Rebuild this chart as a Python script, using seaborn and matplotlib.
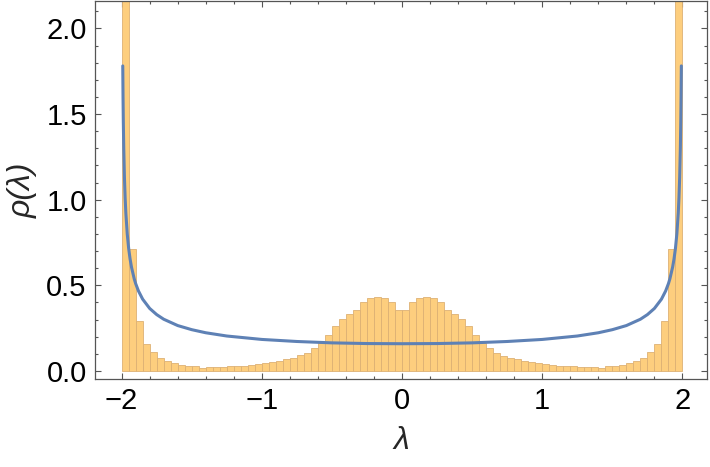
import numpy as np
import pandas as pd
import matplotlib
matplotlib.use("Agg")
import matplotlib.pyplot as plt
import seaborn as sns
from matplotlib.ticker import MultipleLocator

# ---- data ----
bin_left_edges = [round(-2.0 + 0.05 * i, 2) for i in range(80)]
bin_width = 0.05
bin_heights = [
    2.5, 0.711, 0.292, 0.159, 0.109, 0.074, 0.056, 0.045, 0.035, 0.027,
    0.027, 0.017, 0.021, 0.021, 0.021, 0.029, 0.029, 0.031, 0.037, 0.041,
    0.047, 0.052, 0.060, 0.070, 0.078, 0.091, 0.105, 0.134, 0.165, 0.212,
    0.264, 0.301, 0.332, 0.358, 0.400, 0.424, 0.431, 0.426, 0.402, 0.356,
    0.356, 0.402, 0.424, 0.431, 0.426, 0.400, 0.358, 0.332, 0.301, 0.264,
    0.212, 0.165, 0.134, 0.105, 0.089, 0.078, 0.070, 0.058, 0.050, 0.045,
    0.041, 0.037, 0.031, 0.029, 0.029, 0.023, 0.023, 0.023, 0.019, 0.027,
    0.027, 0.035, 0.047, 0.056, 0.074, 0.109, 0.159, 0.292, 0.711, 2.5,
]

curve_x = [-1.992, -1.99, -1.988, -1.985, -1.98, -1.975, -1.97, -1.96, -1.95,
           -1.94, -1.93, -1.91, -1.9, -1.88, -1.85, -1.8, -1.75, -1.7, -1.6,
           -1.5, -1.4, -1.25, -1.0, -0.75, -0.5, -0.25, 0.0,
           0.25, 0.5, 0.75, 1.0, 1.25, 1.4, 1.5, 1.6, 1.7, 1.75, 1.8, 1.85,
           1.88, 1.9, 1.91, 1.93, 1.94, 1.95, 1.96, 1.97, 1.975, 1.98, 1.985,
           1.988, 1.99, 1.992]
curve_y = [1.781, 1.594, 1.455, 1.302, 1.128, 1.010, 0.922, 0.800, 0.716,
           0.655, 0.607, 0.537, 0.510, 0.467, 0.419, 0.365, 0.329, 0.302, 0.265,
           0.241, 0.223, 0.204, 0.184, 0.172, 0.164, 0.160, 0.159,
           0.160, 0.164, 0.172, 0.184, 0.204, 0.223, 0.241, 0.265, 0.302, 0.329,
           0.365, 0.419, 0.467, 0.510, 0.537, 0.607, 0.655, 0.716, 0.800, 0.922,
           1.010, 1.128, 1.302, 1.455, 1.594, 1.781]

x_ticks = [-2, -1, 0, 1, 2]
x_tick_labels = ["\u22122", "\u22121", "0", "1", "2"]
y_ticks = [0.0, 0.5, 1.0, 1.5, 2.0]
y_tick_labels = ["0.0", "0.5", "1.0", "1.5", "2.0"]

# ---- build ----
edges = bin_left_edges + [round(bin_left_edges[-1] + bin_width, 2)]
centers = [e + bin_width / 2 for e in bin_left_edges]
hist_df = pd.DataFrame({"lam": centers, "h": bin_heights})
curve_df = pd.DataFrame({"lam": curve_x, "rho": curve_y})

sns.set_style("white")
plt.rcParams["font.family"] = ["Liberation Sans", "DejaVu Sans"]

fig = plt.figure(figsize=(7.10, 4.67), dpi=100)
ax = fig.add_axes([95 / 710, 1 - 379 / 467, (707 - 95) / 710, (379 - 1) / 467])

sns.histplot(data=hist_df, x="lam", weights="h", bins=edges, stat="count",
             color="#FDCE7E", edgecolor="#DDB174", linewidth=0.6, alpha=1.0,
             ax=ax)
sns.lineplot(data=curve_df, x="lam", y="rho", sort=False, color="#5E81B5",
             linewidth=2.2, ax=ax)

ax.set_xlim(-2.19, 2.175)
ax.set_ylim(-0.047, 2.16)

ax.set_xticks(x_ticks)
ax.set_xticklabels(x_tick_labels)
ax.set_yticks(y_ticks)
ax.set_yticklabels(y_tick_labels)
ax.xaxis.set_minor_locator(MultipleLocator(0.2))
ax.yaxis.set_minor_locator(MultipleLocator(0.1))

frame_col = "#555555"
for s in ax.spines.values():
    s.set_visible(True)
    s.set_color(frame_col)
    s.set_linewidth(0.9)

ax.tick_params(which="both", direction="in", top=True, right=True,
               bottom=True, left=True, color=frame_col, width=0.8)
ax.tick_params(which="major", length=4.0, labelsize=21, pad=6,
               labelcolor="black")
ax.tick_params(which="minor", length=2.2)

ax.set_xlabel("\u03bb", fontsize=23, style="italic", labelpad=8)
ax.set_ylabel("\u03c1(\u03bb)", fontsize=23, style="italic", labelpad=6)
ax.grid(False)

fig.savefig("out.png", dpi=100)
